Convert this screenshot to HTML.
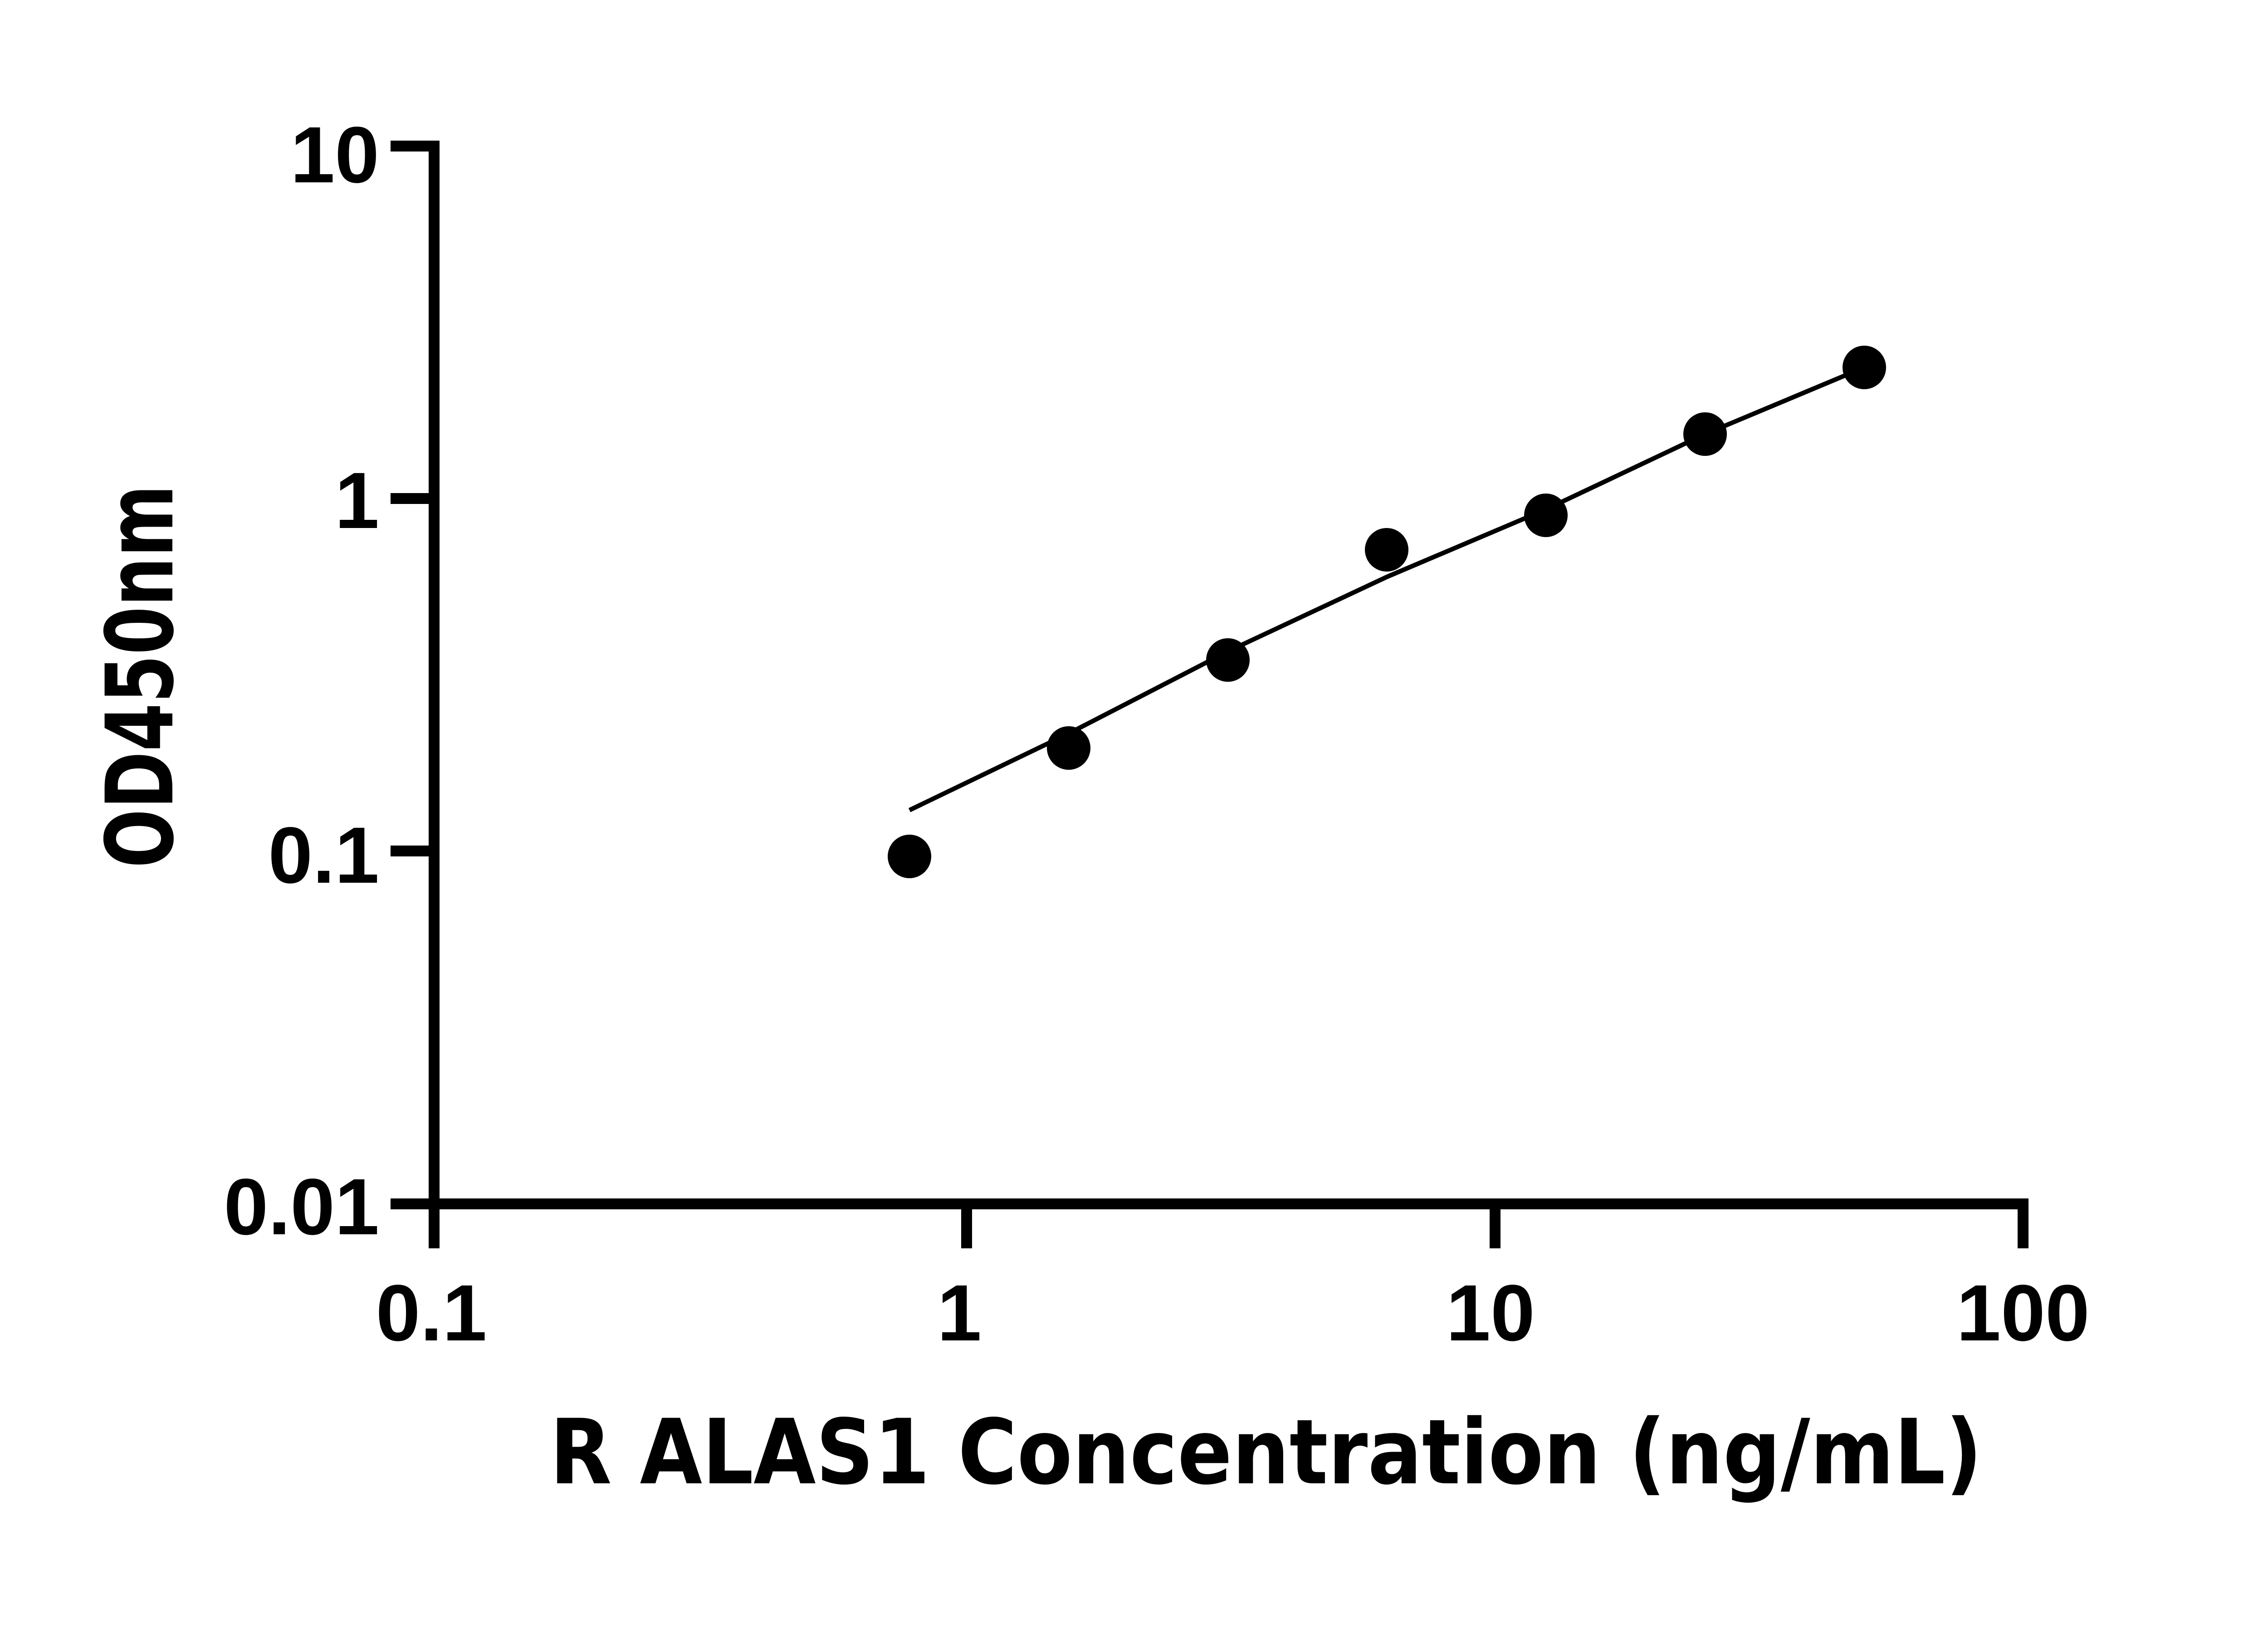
<!DOCTYPE html>
<html><head><meta charset="utf-8"><style>html,body{margin:0;padding:0;background:#fff;}svg{display:block;}</style></head>
<body>
<svg xmlns="http://www.w3.org/2000/svg" width="5142" height="3600" viewBox="0 0 5142 3600">
<rect width="5142" height="3600" fill="#fff"/>
<g stroke="#000" fill="none">
<line x1="957" y1="310" x2="957" y2="2752" stroke-width="24"/>
<line x1="861" y1="2654" x2="4472" y2="2654" stroke-width="24"/>
<line x1="861" y1="322" x2="969" y2="322" stroke-width="24"/>
<line x1="861" y1="1099" x2="957" y2="1099" stroke-width="24"/>
<line x1="861" y1="1876" x2="957" y2="1876" stroke-width="24"/>
<line x1="2131" y1="2654" x2="2131" y2="2752" stroke-width="24"/>
<line x1="3296" y1="2654" x2="3296" y2="2752" stroke-width="24"/>
<line x1="4460" y1="2642" x2="4460" y2="2752" stroke-width="24"/>
<polyline stroke-width="10" points="2005,1786 2356,1617 2707,1436 3057,1272 3408,1123 3759,957 4110,810"/>
</g>
<g fill="#000">
<circle cx="2005" cy="1888" r="48"/>
<circle cx="2356" cy="1649" r="48"/>
<circle cx="2707" cy="1455" r="48"/>
<circle cx="3057" cy="1212" r="48"/>
<circle cx="3408" cy="1136" r="48"/>
<circle cx="3759" cy="957" r="48"/>
<circle cx="4110" cy="810" r="48"/>
</g>
<g font-family="Liberation Sans, sans-serif" font-weight="bold" font-size="176" fill="#000">
<text x="836" y="402" text-anchor="end">10</text>
<text x="836" y="1164" text-anchor="end">1</text>
<text x="836" y="1946" text-anchor="end">0.1</text>
<text x="836" y="2721" text-anchor="end">0.01</text>
<text x="951" y="2955" text-anchor="middle">0.1</text>
<text x="2115" y="2955" text-anchor="middle">1</text>
<text x="3286" y="2955" text-anchor="middle">10</text>
<text x="4460" y="2955" text-anchor="middle">100</text>
</g>
<text x="1212" y="3270" font-family="DejaVu Sans, sans-serif" font-weight="bold" font-size="198" textLength="3158" lengthAdjust="spacingAndGlyphs">R ALAS1 Concentration (ng/mL)</text>
<text transform="translate(380,1491) rotate(-90)" text-anchor="middle" font-family="DejaVu Sans, sans-serif" font-weight="bold" font-size="205" textLength="845" lengthAdjust="spacingAndGlyphs">OD450nm</text>
</svg>
</body></html>
